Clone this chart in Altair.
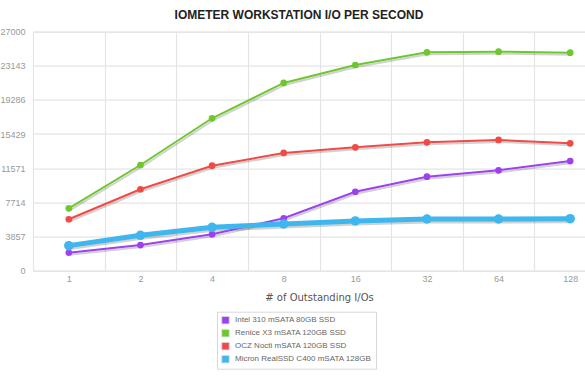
import altair as alt
import pandas as pd

outstanding = ["1", "2", "4", "8", "16", "32", "64", "128"]
series_names = [
    "Intel 310 mSATA 80GB SSD",
    "Renice X3 mSATA 120GB SSD",
    "OCZ Nocti mSATA 120GB SSD",
    "Micron RealSSD C400 mSATA 128GB",
]
intel = [2030, 2900, 4110, 5920, 8920, 10620, 11340, 12390]
renice = [7050, 11940, 17220, 21210, 23240, 24670, 24740, 24630]
ocz = [5810, 9200, 11860, 13300, 13940, 14500, 14770, 14390]
micron = [2830, 4000, 4900, 5280, 5620, 5840, 5840, 5880]
colors = ["#9d41f0", "#6fc72e", "#f04a47", "#40b6ee"]
y_ticks = [0, 3857, 7714, 11571, 15429, 19286, 23143, 27000]

rows = []
for name, vals in zip(series_names, [intel, renice, ocz, micron]):
    for x, v in zip(outstanding, vals):
        rows.append({"io": x, "series": name, "drive": name, "iops": v})
df = pd.DataFrame(rows)

x_enc = alt.X(
    "io:O",
    sort=outstanding,
    scale=alt.Scale(type="band", domain=outstanding, range=[0, 573], paddingInner=0, paddingOuter=0),
    axis=alt.Axis(
        title="# of Outstanding I/Os",
        titleFont="DejaVu Sans",
        titleFontSize=10,
        titleFontWeight="normal",
        titleColor="#555555",
        titleX=286,
        titleY=22,
        labelAngle=0,
        labelColor="#999999",
        labelFontSize=9,
        labelFont="Liberation Sans",
        labelPadding=4,
        ticks=False,
        domain=False,
        grid=True,
        gridColor="#e4e4e4",
        gridWidth=1.2,
        tickBand="extent",
    ),
)
y_enc = alt.Y(
    "iops:Q",
    scale=alt.Scale(domain=[0, 27000], nice=False, zero=True),
    axis=alt.Axis(
        title=None,
        values=y_ticks,
        format="d",
        labelColor="#999999",
        labelFontSize=9,
        labelFont="Liberation Sans",
        labelPadding=8,
        ticks=False,
        domain=False,
        grid=True,
        gridColor="#e4e4e4",
        gridWidth=1.2,
    ),
)

is_micron = alt.datum.series == series_names[3]

base = alt.Chart(df)

shadow = base.mark_line(color="#000000", opacity=0.18, yOffset=2, xOffset=1).encode(
    x=x_enc,
    y=y_enc,
    detail="series:N",
    strokeWidth=alt.condition(is_micron, alt.value(5), alt.value(2)),
)
lines = base.mark_line().encode(
    x=x_enc,
    y=y_enc,
    stroke=alt.Stroke("series:N", scale=alt.Scale(domain=series_names, range=colors), legend=None),
    strokeWidth=alt.condition(is_micron, alt.value(5), alt.value(2)),
)
points = base.mark_circle(opacity=1).encode(
    x=x_enc,
    y=y_enc,
    color=alt.Color(
        "drive:N",
        scale=alt.Scale(domain=series_names, range=colors),
        sort=series_names,
        legend=alt.Legend(
            title=None,
            orient="none",
            legendX=184,
            legendY=280,
            symbolType="square",
            symbolSize=56,
            symbolStrokeColor="#dddddd",
            symbolStrokeWidth=0.8,
            symbolOpacity=1,
            labelFont="Liberation Sans",
            labelFontSize=8,
            labelColor="#666666",
            labelOffset=5,
            rowPadding=2,
            padding=4,
            strokeColor="#d8d8d8",
            fillColor="#ffffff",
            labelLimit=300,
        ),
    ),
    size=alt.condition(is_micron, alt.value(90), alt.value(45)),
)

chart = (
    alt.layer(shadow, lines, points)
    .resolve_scale(color="independent", stroke="independent")
    .properties(
        width=552,
        height=239,
        autosize=alt.AutoSizeParams(type="none"),
        padding={"left": 33, "top": 31.7, "right": 0, "bottom": 119.3},
        title=alt.TitleParams(
            "IOMETER WORKSTATION I/O PER SECOND",
            font="Liberation Sans",
            fontSize=12,
            fontWeight="bold",
            color="#222222",
            anchor="middle",
            dx=-10,
            dy=8,
            offset=14,
        ),
    )
    .configure_view(stroke=None)
    .configure(background="#ffffff")
)

chart.save("out.html", embed_options={"renderer": "svg", "actions": False})
